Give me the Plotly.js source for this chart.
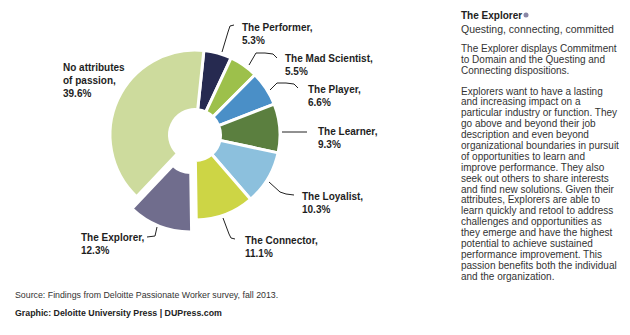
<!DOCTYPE html>
<html>
<head>
<meta charset="utf-8">
<script src="https://cdn.plot.ly/plotly-3.0.1.min.js"></script>
<style>html,body{margin:0;padding:0;background:#fff;}#chart{width:630px;height:335px;}</style>
</head>
<body>
<div id="chart"></div>
<script>
// ---- data ----
const categories = ["The Performer", "The Mad Scientist", "The Player", "The Learner",
  "The Loyalist", "The Connector", "The Explorer", "No attributes of passion"];
const shares = [5.3, 5.5, 6.6, 9.3, 10.3, 11.1, 12.3, 39.6];
const highlighted = "The Explorer";
const sideTitle = "The Explorer";
const sideSubtitle = "Questing, connecting, committed";
const sidePara1 = ["The Explorer displays Commitment", "to Domain and the Questing and", "Connecting dispositions."];
const sidePara2 = ["Explorers want to have a lasting", "and increasing impact on a",
  "particular industry or function. They", "go above and beyond their job",
  "description and even beyond", "organizational boundaries in pursuit",
  "of opportunities to learn and", "improve performance. They also",
  "seek out others to share interests", "and find new solutions. Given their",
  "attributes, Explorers are able to", "learn quickly and retool to address",
  "challenges and opportunities as", "they emerge and have the highest",
  "potential to achieve sustained", "performance improvement. This",
  "passion benefits both the individual", "and the organization."];
const sourceText = "Source: Findings from Deloitte Passionate Worker survey, fall 2013.";
const creditText = "Graphic: Deloitte University Press | DUPress.com";

// ---- styles ----
const colors = ["#262a50", "#9dc04b", "#4a8fc7", "#5b7f3f", "#8cc0dd", "#cdd545", "#706d8d", "#cddb9d"];
const W = 630, H = 335;
const FONT = '"Liberation Sans", Arial, Helvetica, sans-serif';
const px = x => x / W, py = y => 1 - y / H;

// pie geometry (pixels)
const cx = 195, cy = 135, R = 85, maxPull = 0.15;
const half = R * (1 + maxPull);
const pulls = categories.map(c => c === highlighted ? maxPull : 0);

// label positions (pixels: left x, center y) and leader paths
const labelPos = [[240, 34], [283, 65], [306, 96], [316, 138], [300, 203], [243, 247], [79, 244], [61, 80]];
const leaders = [
  [[222,52],[228,32],[230,26],[234,25]],
  [[249,65],[256,53],[265,53],[273,54],[277,58]],
  [[270,90],[277,83],[286,83],[294,84],[298,88]],
  [[282,132],[307,132]],
  [[269,182],[280,192],[286,194],[294,195]],
  [[223,218],[229,234],[231,238],[235,239]],
  [[157,227],[155,236],[147,237]]
];
function pathFrom(pts) {
  let s = "M" + px(pts[0][0]) + "," + py(pts[0][1]);
  for (let i = 1; i < pts.length; i++) s += " L" + px(pts[i][0]) + "," + py(pts[i][1]);
  return s;
}

function labelText(name, v) {
  const n = name === "No attributes of passion" ? "No attributes<br>of passion" : name;
  return "<b>" + n + ",<br>" + v.toFixed(1) + "%</b>";
}

const annotations = [];
categories.forEach((c, i) => {
  annotations.push({
    xref: "paper", yref: "paper", x: px(labelPos[i][0]), y: py(labelPos[i][1]),
    xanchor: "left", yanchor: "middle", align: "left", showarrow: false,
    text: labelText(c, shares[i]), font: {family: FONT, size: 10, color: "#1e1e1e"}
  });
});
function addLine(text, x, y, size, bold, color) {
  annotations.push({
    xref: "paper", yref: "paper", x: px(x), y: py(y), xanchor: "left", yanchor: "middle",
    align: "left", showarrow: false, borderpad: 0,
    text: bold ? "<b>" + text + "</b>" : text, font: {family: FONT, size: size, color: color}
  });
}
const sx = 460;
addLine(sideTitle, sx, 15, 10, true, "#222");
addLine(sideSubtitle, sx, 28.5, 10.5, false, "#333");
sidePara1.forEach((t, i) => addLine(t, sx, 48 + i * 11.2, 10, false, "#333"));
sidePara2.forEach((t, i) => addLine(t, sx, 91 + i * 10.9, 10, false, "#333"));
addLine(sourceText, 14, 295, 8.8, false, "#333");
addLine(creditText, 14, 313, 8.8, true, "#222");

const shapes = leaders.map(p => ({
  type: "path", xref: "paper", yref: "paper", path: pathFrom(p),
  line: {color: "#222", width: 1}
}));
shapes.push({
  type: "circle", xref: "paper", yref: "paper",
  x0: px(523.5), x1: px(528.5), y0: py(17.5), y1: py(12.5),
  fillcolor: "#8a87a6", line: {width: 0}
});

const trace = {
  type: "pie",
  labels: categories,
  values: shares,
  sort: false,
  direction: "clockwise",
  rotation: 6,
  hole: 0.3,
  pull: pulls,
  textinfo: "none",
  hoverinfo: "none",
  showlegend: false,
  marker: {colors: colors, line: {color: "#ffffff", width: 3}},
  domain: {x: [px(cx - half), px(cx + half)], y: [py(cy + half), py(cy - half)]}
};

const layout = {
  width: W, height: H,
  margin: {l: 0, r: 0, t: 0, b: 0},
  paper_bgcolor: "#ffffff",
  showlegend: false,
  annotations: annotations,
  shapes: shapes,
  font: {family: FONT}
};
Plotly.newPlot("chart", [trace], layout, {staticPlot: true, displayModeBar: false});
</script>
</body>
</html>
